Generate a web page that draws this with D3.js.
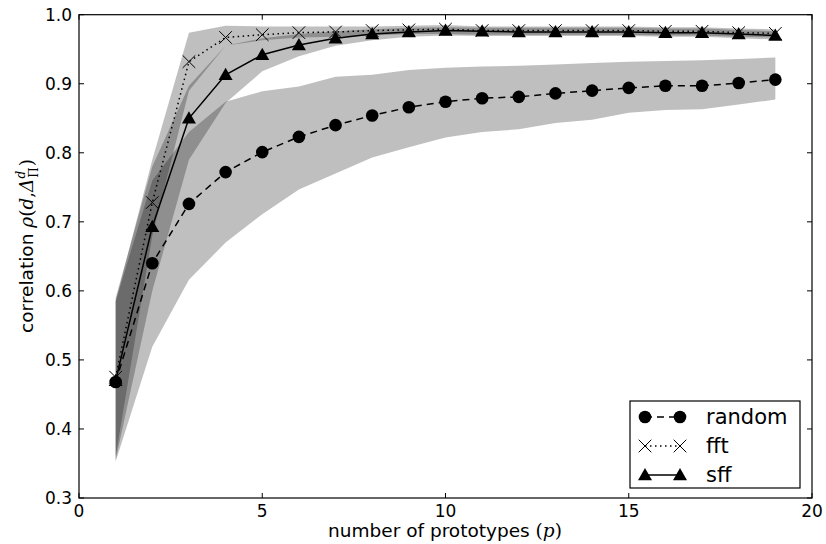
<!DOCTYPE html>
<html>
<head>
<meta charset="UTF-8">
<script src="https://d3js.org/d3.v7.min.js"></script>
<style>
  body { margin: 0; background: #fff; }
  svg { font-family: "DejaVu Sans", sans-serif; }
</style>
</head>
<body>
<svg id="chart" width="826" height="544"></svg>
<script>
// number of prototypes
const protos = d3.range(1, 20);

// random
const randomMean  = [0.468, 0.640, 0.726, 0.772, 0.801, 0.823, 0.840, 0.854, 0.866, 0.874, 0.879, 0.881, 0.886, 0.890, 0.894, 0.897, 0.897, 0.901, 0.906];
const randomLow   = [0.353, 0.519, 0.616, 0.670, 0.711, 0.747, 0.770, 0.793, 0.808, 0.822, 0.830, 0.834, 0.843, 0.848, 0.858, 0.862, 0.863, 0.870, 0.877];
const randomHigh  = [0.585, 0.760, 0.830, 0.874, 0.889, 0.896, 0.910, 0.913, 0.920, 0.923, 0.925, 0.926, 0.928, 0.930, 0.932, 0.933, 0.934, 0.936, 0.938];

// fft
const fftMean = [0.475, 0.728, 0.932, 0.967, 0.971, 0.974, 0.975, 0.977, 0.978, 0.979, 0.977, 0.977, 0.977, 0.977, 0.977, 0.976, 0.976, 0.974, 0.973];
const fftLow  = [0.360, 0.680, 0.890, 0.955, 0.963, 0.967, 0.968, 0.970, 0.972, 0.972, 0.971, 0.971, 0.971, 0.971, 0.971, 0.970, 0.970, 0.968, 0.967];
const fftHigh = [0.585, 0.790, 0.974, 0.984, 0.983, 0.983, 0.983, 0.983, 0.984, 0.985, 0.983, 0.983, 0.983, 0.983, 0.983, 0.982, 0.982, 0.980, 0.979];

// sff
const sffMean = [0.470, 0.693, 0.850, 0.913, 0.942, 0.956, 0.966, 0.972, 0.975, 0.977, 0.976, 0.975, 0.975, 0.975, 0.975, 0.974, 0.974, 0.972, 0.970];
const sffLow  = [0.355, 0.600, 0.790, 0.872, 0.918, 0.940, 0.955, 0.963, 0.968, 0.970, 0.969, 0.969, 0.969, 0.969, 0.969, 0.968, 0.968, 0.966, 0.964];
const sffHigh = [0.590, 0.780, 0.897, 0.955, 0.966, 0.972, 0.976, 0.979, 0.981, 0.982, 0.981, 0.981, 0.981, 0.981, 0.981, 0.980, 0.980, 0.978, 0.976];

const xTicks = [0, 5, 10, 15, 20];
const yTicks = [0.3, 0.4, 0.5, 0.6, 0.7, 0.8, 0.9, 1.0];

const svg = d3.select("#chart");
const pLeft = 79, pRight = 812, pTop = 14.7, pBottom = 498;

const x = d3.scaleLinear().domain([0, 20]).range([pLeft, pRight]);
const y = d3.scaleLinear().domain([0.3, 1.0]).range([pBottom, pTop]);

const series = [
    { name: "random", mean: randomMean, lo: randomLow, hi: randomHigh, marker: "circle", dash: "7,5" },
    { name: "fft", mean: fftMean, lo: fftLow, hi: fftHigh, marker: "x", dash: "1.5,3.5" },
    { name: "sff", mean: sffMean, lo: sffLow, hi: sffHigh, marker: "triangle", dash: null }
];

const plot = svg.append("g");
plot.append("clipPath").attr("id", "clip")
    .append("rect").attr("x", pLeft).attr("y", pTop).attr("width", pRight - pLeft).attr("height", pBottom - pTop);

// bands
const area = d3.area()
    .x((d, i) => x(protos[i]))
    .y0(d => y(d[0]))
    .y1(d => y(d[1]));

series.forEach(s => {
    plot.append("path")
        .datum(s.lo.map((v, i) => [v, s.hi[i]]))
        .attr("d", area)
        .attr("fill", "#000")
        .attr("fill-opacity", 0.25)
        .attr("clip-path", "url(#clip)");
});

const line = d3.line().x((d, i) => x(protos[i])).y(d => y(d));

function drawMarker(g, type, cx, cy) {
    if (type === "circle") {
        g.append("circle").attr("cx", cx).attr("cy", cy).attr("r", 6.3).attr("fill", "#000");
    } else if (type === "x") {
        const r = 6.3;
        g.append("path")
            .attr("d", `M${cx - r},${cy - r}L${cx + r},${cy + r}M${cx - r},${cy + r}L${cx + r},${cy - r}`)
            .attr("stroke", "#000").attr("stroke-width", 1).attr("fill", "none");
    } else {
        const r = 7;
        g.append("path")
            .attr("d", `M${cx},${cy - r}L${cx + r},${cy + r * 0.75}L${cx - r},${cy + r * 0.75}Z`)
            .attr("fill", "#000");
    }
}

series.forEach(s => {
    plot.append("path")
        .datum(s.mean)
        .attr("d", line)
        .attr("fill", "none")
        .attr("stroke", "#000")
        .attr("stroke-width", 1.5)
        .attr("stroke-dasharray", s.dash);
    const mg = plot.append("g");
    s.mean.forEach((v, i) => drawMarker(mg, s.marker, x(protos[i]), y(v)));
});

// frame
svg.append("rect")
    .attr("x", pLeft).attr("y", pTop)
    .attr("width", pRight - pLeft).attr("height", pBottom - pTop)
    .attr("fill", "none").attr("stroke", "#000").attr("stroke-width", 1.2);

// ticks (inward, on all four sides)
const tl = 5;
const ticks = svg.append("g").attr("stroke", "#000").attr("stroke-width", 1);
xTicks.forEach(t => {
    ticks.append("line").attr("x1", x(t)).attr("x2", x(t)).attr("y1", pBottom).attr("y2", pBottom - tl);
    ticks.append("line").attr("x1", x(t)).attr("x2", x(t)).attr("y1", pTop).attr("y2", pTop + tl);
});
yTicks.forEach(t => {
    ticks.append("line").attr("x1", pLeft).attr("x2", pLeft + tl).attr("y1", y(t)).attr("y2", y(t));
    ticks.append("line").attr("x1", pRight).attr("x2", pRight - tl).attr("y1", y(t)).attr("y2", y(t));
});

svg.append("g").selectAll("text")
    .data(xTicks).join("text")
    .attr("x", d => x(d)).attr("y", 517)
    .attr("text-anchor", "middle")
    .attr("font-size", 17)
    .text(d => d);

svg.append("g").selectAll("text")
    .data(yTicks).join("text")
    .attr("x", 72).attr("y", d => y(d) + 6)
    .attr("text-anchor", "end")
    .attr("font-size", 17)
    .text(d => d.toFixed(1));

// axis labels (math parts in serif: upright parens, italic symbols)
const serif = "DejaVu Serif";
const xl = svg.append("text")
    .attr("x", 445).attr("y", 537)
    .attr("text-anchor", "middle")
    .attr("font-size", 18.5)
    .text("number of prototypes ");
xl.append("tspan").attr("font-family", serif).text("(");
xl.append("tspan").attr("font-family", serif).attr("font-style", "italic").text("p");
xl.append("tspan").attr("font-family", serif).text(")");

const yl = svg.append("text")
    .attr("transform", "translate(33,246) rotate(-90)")
    .attr("text-anchor", "middle")
    .attr("font-size", 18.5)
    .text("correlation ");
yl.append("tspan").attr("font-family", serif).attr("font-style", "italic").text("ρ");
yl.append("tspan").attr("font-family", serif).text("(");
yl.append("tspan").attr("font-family", serif).attr("font-style", "italic").text("d");
yl.append("tspan").attr("font-family", serif).text(",");
yl.append("tspan").attr("font-family", serif).attr("font-style", "italic").text("Δ");
yl.append("tspan").attr("font-family", serif).attr("font-style", "italic").attr("font-size", 12).attr("dy", -8).text("d");
yl.append("tspan").attr("font-family", serif).attr("font-size", 12).attr("dx", -7).attr("dy", 13).text("Π");
yl.append("tspan").attr("font-family", serif).attr("dx", 1).attr("dy", -5).text(")");

// legend
const lg = svg.append("g");
lg.append("rect").attr("x", 630).attr("y", 401).attr("width", 170).attr("height", 87)
    .attr("fill", "#fff").attr("stroke", "#000").attr("stroke-width", 1.2);
series.forEach((s, i) => {
    const ly = 417 + i * 29;
    lg.append("line").attr("x1", 645).attr("x2", 680).attr("y1", ly).attr("y2", ly)
        .attr("stroke", "#000").attr("stroke-width", 1.5).attr("stroke-dasharray", s.dash);
    drawMarker(lg, s.marker, 645, ly);
    drawMarker(lg, s.marker, 680, ly);
    lg.append("text").attr("x", 706).attr("y", ly + 7)
        .attr("font-size", 21).text(s.name);
});
</script>
</body>
</html>
